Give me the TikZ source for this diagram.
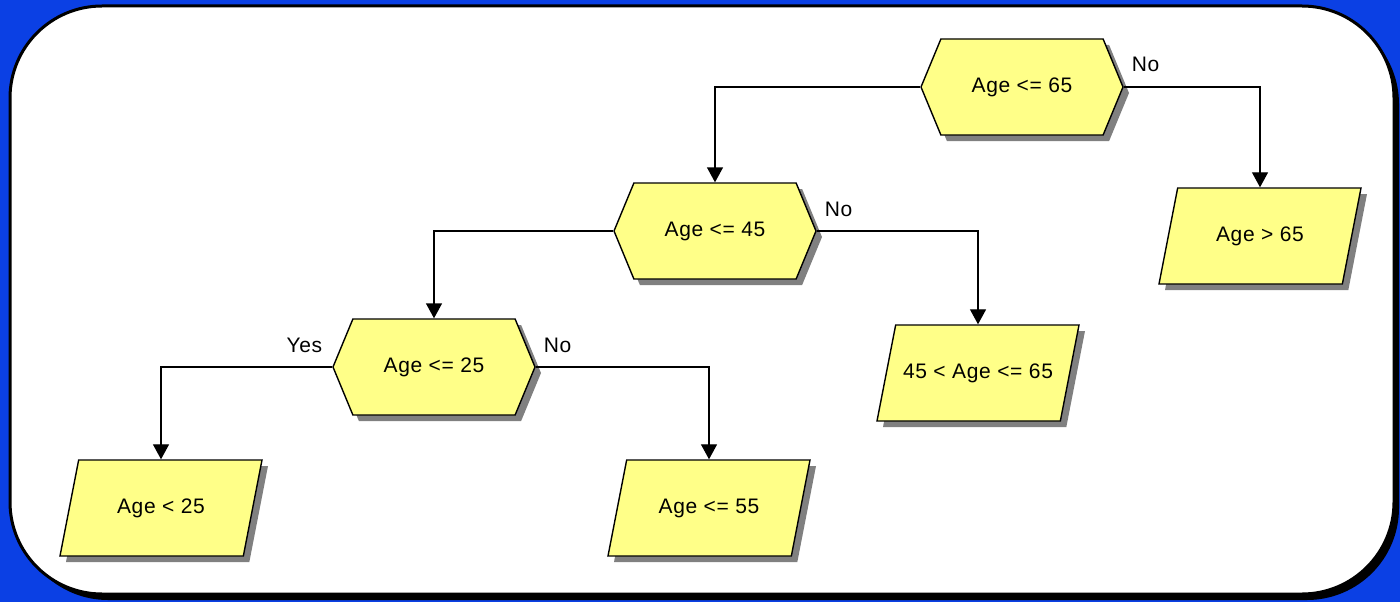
\documentclass[tikz,border=0pt]{standalone}
\usepackage{fontspec}
\setmainfont{Liberation Sans}[LetterSpace=3]
\usepackage{tikz}
\usetikzlibrary{shapes.geometric,shapes.symbols,shadows,arrows.meta}
\definecolor{bluebg}{HTML}{0B40E4}
\definecolor{boxfill}{HTML}{FFFF88}
\definecolor{shade}{HTML}{808080}
\tikzset{
  txt/.style={font=\fontsize{21}{25}\selectfont},
  test/.style={txt, signal, signal to=west and east, signal pointer angle=135,
    draw=black, fill=boxfill, line width=1.4pt, inner sep=0pt,
    minimum width=202pt, minimum height=96pt,
    drop shadow={shadow xshift=6pt, shadow yshift=-6pt, fill=shade, opacity=1}},
  leaf/.style={txt, trapezium, trapezium left angle=79, trapezium right angle=101,
    trapezium stretches body=true, draw=black, fill=boxfill, line width=1.4pt,
    text height=15pt, text depth=5pt, inner xsep=0pt, inner ysep=38pt,
    minimum width=202pt,
    drop shadow={shadow xshift=6pt, shadow yshift=-6pt, fill=shade, opacity=1}},
  link/.style={draw=black, line width=1.4pt, -{Triangle[width=16pt,length=15pt]}},
  lab/.style={txt, inner sep=0pt},
}

\begin{document}
\begin{tikzpicture}[x=1pt,y=-1pt]
  % page and frame
  \fill[bluebg] (0,0) rectangle (1400,602);
  \useasboundingbox (0,0) rectangle (1400,602);
  \fill[black, rounded corners=92pt] (16,12) rectangle (1399,600);
  \draw[black, fill=white, line width=3pt, rounded corners=92pt] (10,6) rectangle (1394,594);
  % tests
  \node[test] (t65) at (1022,87) {Age <= 65};
  \node[test] (t45) at (715,231) {Age <= 45};
  \node[test] (t25) at (434,367) {Age <= 25};
  % leaves
  \node[leaf] (gt65) at (1260,236) {Age > 65};
  \node[leaf] (mid) at (978,373) {45 < Age <= 65};
  \node[leaf] (lt25) at (161,508) {Age < 25};
  \node[leaf] (le55) at (709,508) {Age <= 55};
  % links
  \draw[link] (t65.west) -| (t45.north);
  \draw[link] (t65.east) -| (gt65.north);
  \draw[link] (t45.west) -| (t25.north);
  \draw[link] (t45.east) -| (mid.north);
  \draw[link] (t25.west) -| (lt25.north);
  \draw[link] (t25.east) -| (le55.north);
  % branch labels
  \node[lab, anchor=base west] (no65) at ([xshift=8pt,yshift=15pt]t65.east) {No};
  \node[lab, anchor=base west] (no45) at ([xshift=8pt,yshift=15pt]t45.east) {No};
  \node[lab, anchor=base west] (no25) at ([xshift=8pt,yshift=15pt]t25.east) {No};
  \node[lab, anchor=base east] (yes25) at ([xshift=-10pt,yshift=15pt]t25.west) {Yes};
\end{tikzpicture}
\end{document}
